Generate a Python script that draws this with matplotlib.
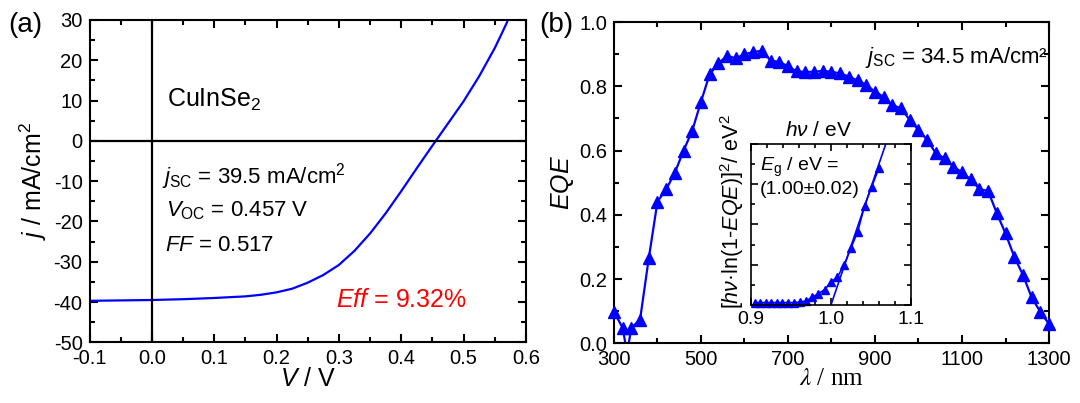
import matplotlib
matplotlib.use("Agg")
import matplotlib.pyplot as plt
from matplotlib.ticker import MultipleLocator, FormatStrFormatter

plt.rcParams['font.family'] = ['Liberation Sans', 'DejaVu Sans']
plt.rcParams['mathtext.fontset'] = 'custom'
plt.rcParams['mathtext.rm'] = 'Liberation Sans'
plt.rcParams['mathtext.it'] = 'Liberation Sans:italic'
plt.rcParams['mathtext.bf'] = 'Liberation Sans:bold'
plt.rcParams['axes.unicode_minus'] = False

# ---- data (a) j-V curve ----
voltage = [-0.1, 0.0, 0.05, 0.1, 0.15, 0.175, 0.2, 0.225, 0.25, 0.275, 0.3, 0.325,
           0.35, 0.375, 0.4, 0.425, 0.45, 0.475, 0.5, 0.525, 0.55, 0.56, 0.57]
current = [-39.7, -39.5, -39.3, -39.0, -38.6, -38.2, -37.6, -36.7, -35.2, -33.3, -30.8, -27.3,
           -23.0, -18.0, -12.5, -6.8, -1.2, 4.3, 9.8, 16.0, 23.0, 26.2, 29.5]

# ---- data (b) EQE ----
wavelength = [300, 320, 340, 360, 380, 400, 420, 440, 460, 480,
              500, 520, 540, 560, 580, 600, 620, 640, 660, 680,
              700, 720, 740, 760, 780, 800, 820, 840, 860, 880,
              900, 920, 940, 960, 980, 1000, 1020, 1040, 1060, 1080,
              1100, 1120, 1140, 1160, 1180, 1200, 1220, 1240, 1260, 1280, 1300]
eqe = [0.098, 0.048, 0.048, 0.074, 0.265, 0.441, 0.479, 0.531, 0.600, 0.662,
       0.752, 0.838, 0.871, 0.895, 0.887, 0.900, 0.906, 0.911, 0.880, 0.876,
       0.862, 0.846, 0.845, 0.845, 0.848, 0.845, 0.840, 0.830, 0.818, 0.804,
       0.783, 0.767, 0.742, 0.731, 0.695, 0.664, 0.633, 0.591, 0.576, 0.550,
       0.532, 0.510, 0.480, 0.474, 0.405, 0.342, 0.270, 0.213, 0.143, 0.098, 0.060]
# extra dip point on the connecting line (below zero, between markers)
dip_wavelength = 330
dip_eqe = -0.03
xtick_labels = [300, 500, 700, 900, 1100, 1300]

# ---- data inset ----
energy = [0.9051, 0.9118, 0.9185, 0.9254, 0.9323, 0.9394, 0.9466, 0.9538, 0.9612,
          0.9688, 0.9764, 0.9841, 0.9920, 1.0000, 1.0081, 1.0164, 1.0248, 1.0333,
          1.0420, 1.0508, 1.0598]
tauc = [0.06, 0.06, 0.06, 0.06, 0.06, 0.06, 0.06, 0.06, 0.07,
        0.10, 0.19, 0.28, 0.38, 0.57, 0.70, 0.99, 1.41, 1.82,
        2.47, 2.94, 3.40]
fit_energy = [1.000, 1.0700]
fit_tauc = [0.0, 4.1]

BLUE = '#0000ff'

fig = plt.figure(figsize=(10.8, 4.03), dpi=100)

def style_axes(ax, lw=1.5, major=6, minor=3.5, lsize=14.5, xpad=5, ypad=5):
    for s in ax.spines.values():
        s.set_linewidth(lw)
    ax.tick_params(which='both', direction='in', top=True, right=True, width=lw)
    ax.tick_params(which='major', length=major, labelsize=lsize)
    ax.tick_params(axis='x', which='major', pad=xpad)
    ax.tick_params(axis='y', which='major', pad=ypad)
    ax.tick_params(which='minor', length=minor)

# ---------------- panel (a) ----------------
ax1 = fig.add_axes([0.0829, 0.1506, 0.4040, 0.7998])
ax1.plot(voltage, current, color=BLUE, lw=1.6)
ax1.axhline(0, color='black', lw=1.6)
ax1.axvline(0, color='black', lw=1.6)
ax1.set_xlim(-0.1, 0.6)
ax1.set_ylim(-50, 30)
ax1.xaxis.set_major_locator(MultipleLocator(0.1))
ax1.xaxis.set_minor_locator(MultipleLocator(0.05))
ax1.yaxis.set_major_locator(MultipleLocator(10))
ax1.yaxis.set_minor_locator(MultipleLocator(5))
ax1.xaxis.set_major_formatter(FormatStrFormatter('%.1f'))
style_axes(ax1)
ax1.set_xlabel(r'$V$ / V', fontsize=18, labelpad=-1)
ax1.set_ylabel(r'$j$ / mA/cm$^2$', fontsize=18, labelpad=3)

ax1.text(0.025, 8.5, r'CuInSe$_2$', fontsize=18)
ax1.text(0.016, -10.7, r'$j_{\rm SC}$ = 39.5 mA/cm$^2$', fontsize=16)
ax1.text(0.022, -18.8, r'$V_{\rm OC}$ = 0.457 V', fontsize=16)
ax1.text(0.021, -27.3, r'$FF$ = 0.517', fontsize=16)
ax1.text(0.295, -41.2, r'$Eff$ = 9.32%', fontsize=18, color='#ff0000')

# ---------------- panel (b) ----------------
ax2 = fig.add_axes([0.5685, 0.1481, 0.4028, 0.7973])
line_x = wavelength[:2] + [dip_wavelength] + wavelength[2:]
line_y = eqe[:2] + [dip_eqe] + eqe[2:]
ax2.plot(line_x, line_y, color=BLUE, lw=1.6, clip_on=True)
ax2.plot(wavelength, eqe, linestyle='none', marker='^', ms=9, color=BLUE,
         clip_on=False, zorder=3)
ax2.set_xlim(300, 1300)
ax2.set_ylim(0, 1.0)
ax2.set_xticks(xtick_labels)
ax2.xaxis.set_minor_locator(MultipleLocator(100))
ax2.yaxis.set_major_locator(MultipleLocator(0.2))
ax2.yaxis.set_minor_locator(MultipleLocator(0.1))
ax2.yaxis.set_major_formatter(FormatStrFormatter('%.1f'))
style_axes(ax2)
ax2.set_xlabel('$\\lambda$ / nm', fontsize=18, labelpad=-1,
               family=['Liberation Serif', 'DejaVu Serif'],
               math_fontfamily='stix')
ax2.set_ylabel(r'$EQE$', fontsize=18, labelpad=2)
ax2.text(878, 0.871, r'$j$$_{\rm SC}$ = 34.5 mA/cm²', fontsize=16)

# ---------------- inset ----------------
ax3 = fig.add_axes([0.6951, 0.2432, 0.1486, 0.3995])
ax3.plot(energy, tauc, color=BLUE, lw=1.2, marker='^', ms=5.5, clip_on=False)
ax3.plot(fit_energy, fit_tauc, color=BLUE, lw=1.2)
ax3.set_xlim(0.9, 1.1)
ax3.set_ylim(0, 4)
ax3.xaxis.set_major_locator(MultipleLocator(0.1))
ax3.xaxis.set_minor_locator(MultipleLocator(0.02))
ax3.yaxis.set_major_locator(MultipleLocator(1))
ax3.yaxis.set_minor_locator(MultipleLocator(0.5))
ax3.xaxis.set_major_formatter(FormatStrFormatter('%.1f'))
style_axes(ax3, lw=1.2, major=5, minor=3, lsize=14, xpad=4)
ax3.tick_params(axis='y', labelleft=False)
ax3.text(0.058, 0.83, r'$E_{\rm g}$ / eV =', transform=ax3.transAxes, fontsize=14)
ax3.text(0.058, 0.69, '(1.00±0.02)', transform=ax3.transAxes, fontsize=14)
ax3.text(0.42, 1.05, r'$h\nu$ / eV', transform=ax3.transAxes, fontsize=15,
         ha='center', va='baseline')
ax3.text(-0.115, 0.58, r'[$h\nu$·ln(1-$EQE$)]$^2$/ eV$^2$', transform=ax3.transAxes,
         fontsize=15.5, rotation=90, ha='center', va='center')

fig.text(0.0074, 0.9206, '(a)', fontsize=20, va='baseline')
fig.text(0.4995, 0.9206, '(b)', fontsize=20, va='baseline')

fig.savefig('out.png', dpi=100)
